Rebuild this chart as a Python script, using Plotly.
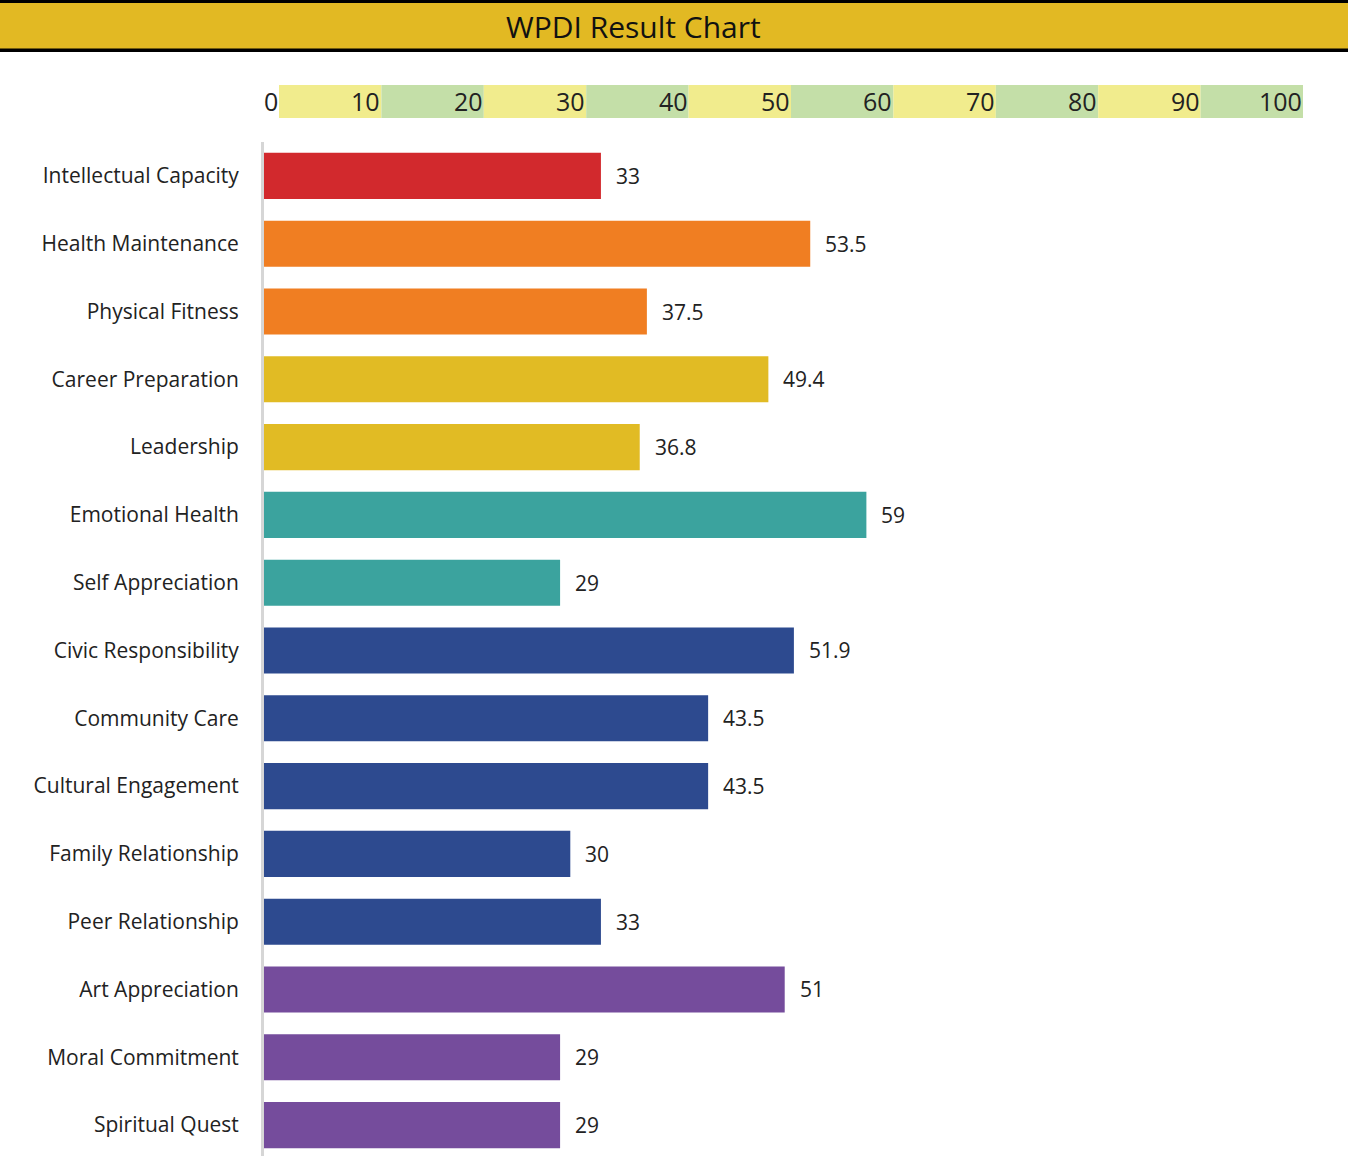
import plotly.graph_objects as go

categories = ["Intellectual Capacity", "Health Maintenance", "Physical Fitness",
              "Career Preparation", "Leadership", "Emotional Health", "Self Appreciation",
              "Civic Responsibility", "Community Care", "Cultural Engagement",
              "Family Relationship", "Peer Relationship", "Art Appreciation",
              "Moral Commitment", "Spiritual Quest"]
values = [33, 53.5, 37.5, 49.4, 36.8, 59, 29, 51.9, 43.5, 43.5, 30, 33, 51, 29, 29]
bar_colors = ["#D2292D", "#F07E22", "#F07E22", "#E1BB24", "#E1BB24", "#3BA39E", "#3BA39E",
              "#2D4A8F", "#2D4A8F", "#2D4A8F", "#2D4A8F", "#2D4A8F", "#754C9C", "#754C9C", "#754C9C"]
scale_ticks = [0, 10, 20, 30, 40, 50, 60, 70, 80, 90, 100]
band_starts = [0, 10, 20, 30, 40, 50, 60, 70, 80, 90]
band_colors = ["#F1EC8D", "#C4DFA8"] * 5
title = "WPDI Result Chart"

W, H = 1348, 1156
FONT = "Open Sans"

fig = go.Figure()
fig.add_trace(go.Bar(
    y=categories, x=values, orientation="h",
    marker=dict(color=bar_colors, line=dict(width=0)),
    width=0.68, xaxis="x", yaxis="y", hoverinfo="x+y",
))
fig.add_trace(go.Bar(
    y=[0] * len(band_starts), x=[10] * len(band_starts), base=band_starts,
    orientation="h", marker=dict(color=band_colors, line=dict(width=0)),
    width=1, xaxis="x2", yaxis="y2", hoverinfo="skip",
))

annotations = []
for c, v in zip(categories, values):
    annotations.append(dict(x=v, y=c, xref="x", yref="y", text=str(v), showarrow=False,
                            xanchor="left", xshift=13, font=dict(family=FONT, size=21, color="#222")))
for t in scale_ticks:
    annotations.append(dict(x=t, y=0, xref="x2", yref="y2", text=str(t), showarrow=False,
                            xanchor="right", xshift=1, yshift=0,
                            font=dict(family=FONT, size=25, color="#222")))
annotations.append(dict(x=633 / W, y=1 - 27 / H, xref="paper", yref="paper", text=title,
                        showarrow=False, xanchor="center", yanchor="middle",
                        font=dict(family=FONT, size=30, color="#111")))

shapes = [
    dict(type="rect", xref="paper", yref="paper", x0=0, x1=1, y0=1 - 50 / H, y1=1,
         fillcolor="#E2B923", line=dict(width=0), layer="below"),
    dict(type="rect", xref="paper", yref="paper", x0=0, x1=1, y0=1 - 3 / H, y1=1,
         fillcolor="#000", line=dict(width=0)),
    dict(type="rect", xref="paper", yref="paper", x0=0, x1=1, y0=1 - 52 / H, y1=1 - 48.5 / H,
         fillcolor="#000", line=dict(width=0)),
]

fig.update_layout(
    width=W, height=H, margin=dict(l=0, r=0, t=0, b=0),
    paper_bgcolor="white", plot_bgcolor="white", showlegend=False, barmode="overlay",
    annotations=annotations, shapes=shapes,
    xaxis=dict(domain=[264 / W, 1285 / W], range=[0, 100], showgrid=False, zeroline=False,
               showticklabels=False, fixedrange=True),
    yaxis=dict(domain=[0, 1 - 142 / H], range=[14.456, -0.5], showgrid=False, zeroline=False,
               showline=True, linecolor="#D6D6D6", linewidth=3,
               ticks="", ticklabelstandoff=18,
               tickfont=dict(family=FONT, size=21, color="#222")),
    xaxis2=dict(domain=[279 / W, 1303 / W], range=[0, 100], anchor="y2", showgrid=False,
                zeroline=False, showticklabels=False, fixedrange=True),
    yaxis2=dict(domain=[1 - 118 / H, 1 - 85 / H], range=[-0.5, 0.5], anchor="x2",
                showgrid=False, zeroline=False, showticklabels=False),
)

fig.write_html("out.html", config={"displayModeBar": False},
               post_script="document.body.style.margin='0';document.body.style.overflow='hidden';")
